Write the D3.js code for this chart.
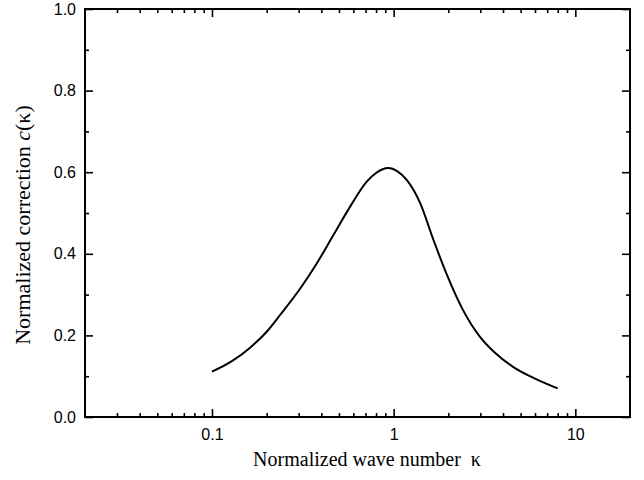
<!DOCTYPE html>
<html><head><meta charset="utf-8">
<script src="https://cdn.jsdelivr.net/npm/d3@7"></script>
<style>body{margin:0;background:#fff;}svg{display:block;}</style>
</head><body>
<svg id="chart" width="644" height="480"></svg>
<script>
const kappa = [0.1, 0.13, 0.162, 0.2, 0.237, 0.306, 0.378, 0.466, 0.575, 0.711, 0.8, 0.934, 1.05, 1.18, 1.4, 1.65, 1.95, 2.41, 2.98, 3.6, 4.54, 6.0, 8.0];
const corr  = [0.111, 0.138, 0.170, 0.209, 0.250, 0.315, 0.377, 0.446, 0.515, 0.577, 0.598, 0.610, 0.602, 0.581, 0.524, 0.436, 0.352, 0.262, 0.197, 0.158, 0.123, 0.094, 0.070];
const xMajor = [0.1, 1, 10];
const xMajorLabels = ["0.1", "1", "10"];
const xMinor = [0.03,0.04,0.05,0.06,0.07,0.08,0.09,0.2,0.3,0.4,0.5,0.6,0.7,0.8,0.9,2,3,4,5,6,7,8,9];
const yMajor = [0, 0.2, 0.4, 0.6, 0.8, 1.0];
const yMinor = [0.1, 0.3, 0.5, 0.7, 0.9];
const xTitle = "Normalized wave number  κ";

const L = 85, R = 630, T = 9, B = 417;
const svg = d3.select("#chart");
const x = d3.scaleLog().domain([0.02, 20]).range([L, R]);
const y = d3.scaleLinear().domain([0, 1]).range([B, T]);

function styleAxis(g){
  g.select(".domain").remove();
  g.selectAll(".tick line").attr("stroke", "#000").attr("stroke-width", 1.6);
  g.selectAll(".tick text").attr("font-family", "Liberation Sans, Arial, sans-serif").attr("font-size", 16).attr("fill", "#000");
}
// bottom
svg.append("g").attr("transform", `translate(0,${B})`)
  .call(d3.axisBottom(x).tickValues(xMajor).tickFormat((d,i)=>xMajorLabels[i]).tickSize(-8).tickPadding(12)).call(styleAxis);
svg.append("g").attr("transform", `translate(0,${B})`)
  .call(d3.axisBottom(x).tickValues(xMinor).tickFormat("").tickSize(-4)).call(styleAxis);
// top
svg.append("g").attr("transform", `translate(0,${T})`)
  .call(d3.axisTop(x).tickValues(xMajor).tickFormat("").tickSize(-8)).call(styleAxis);
svg.append("g").attr("transform", `translate(0,${T})`)
  .call(d3.axisTop(x).tickValues(xMinor).tickFormat("").tickSize(-4)).call(styleAxis);
// left
svg.append("g").attr("transform", `translate(${L},0)`)
  .call(d3.axisLeft(y).tickValues(yMajor).tickFormat(d3.format(".1f")).tickSize(-8).tickPadding(9)).call(styleAxis);
svg.append("g").attr("transform", `translate(${L},0)`)
  .call(d3.axisLeft(y).tickValues(yMinor).tickFormat("").tickSize(-4)).call(styleAxis);
// right
svg.append("g").attr("transform", `translate(${R},0)`)
  .call(d3.axisRight(y).tickValues(yMajor).tickFormat("").tickSize(-8)).call(styleAxis);
svg.append("g").attr("transform", `translate(${R},0)`)
  .call(d3.axisRight(y).tickValues(yMinor).tickFormat("").tickSize(-4)).call(styleAxis);

// frame
svg.append("rect").attr("x", L).attr("y", T).attr("width", R-L).attr("height", B-T)
  .attr("fill", "none").attr("stroke", "#000").attr("stroke-width", 2);

// curve
const line = d3.line().x((d,i)=>x(kappa[i])).y(d=>y(d)).curve(d3.curveMonotoneX);
svg.append("path").datum(corr).attr("d", line).attr("fill", "none").attr("stroke", "#000").attr("stroke-width", 2);

// titles
svg.append("text").attr("x", 367).attr("y", 466).attr("text-anchor", "middle")
  .attr("font-family", "Liberation Serif, Times New Roman, serif").attr("font-size", 20).attr("fill", "#000")
  .attr("xml:space", "preserve").style("white-space", "pre").text(xTitle);
const yt = svg.append("text").attr("transform", `translate(30,225) rotate(-90)`).attr("text-anchor", "middle")
  .attr("font-family", "Liberation Serif, Times New Roman, serif").attr("font-size", 22).attr("fill", "#000");
yt.append("tspan").text("Normalized correction ");
yt.append("tspan").attr("font-style", "italic").text("c");
yt.append("tspan").text("(κ)");
</script>
</body></html>
